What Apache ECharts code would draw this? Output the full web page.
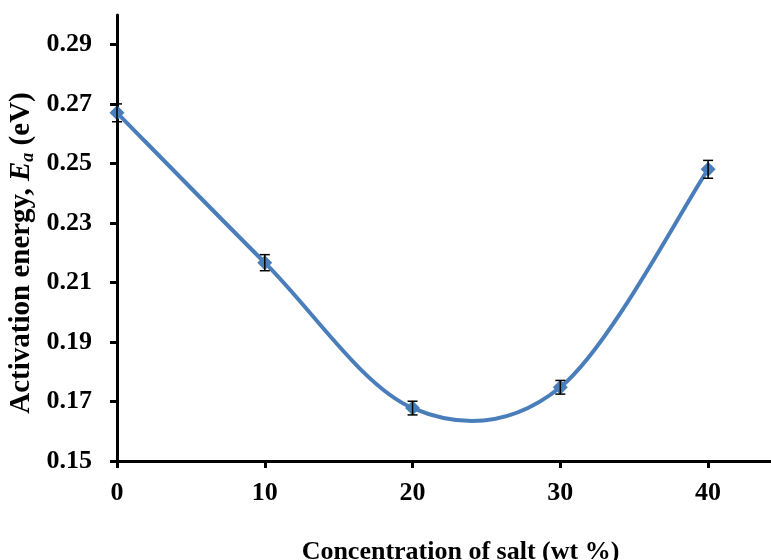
<!DOCTYPE html>
<html>
<head>
<meta charset="utf-8">
<title>Activation energy vs salt concentration</title>
<script src="https://cdn.jsdelivr.net/npm/echarts@6/dist/echarts.min.js"></script>
<style>
  html, body { margin: 0; padding: 0; background: #fff; }
  #main { width: 771px; height: 560px; }
</style>
</head>
<body>
<div id="main"></div>
<script>
// concentration of salt (wt %)
const salt = [0, 10, 20, 30, 40]
// activation energy Ea (eV)
const energy = [0.2671, 0.2167, 0.1678, 0.1748, 0.2481]
// error bar half-heights (eV)
const errors = [0.003, 0.0027, 0.0023, 0.0023, 0.003]

const font = 'Liberation Serif, Times New Roman, serif'
const blue = '#4A7EBB'

let chart = echarts.init(document.getElementById('main'))

// excel style smoothed line: catmull-rom segments turned into bezier curves,
// points mapped through the chart's own axes
function renderCurve (params, api) {
  let pts = salt.map((x, i) => api.coord([x, energy[i]]))
  let n = pts.length
  let children = []
  for (let i = 0; i < n - 1; i++) {
    let p0 = pts[Math.max(i - 1, 0)]
    let p1 = pts[i]
    let p2 = pts[i + 1]
    let p3 = pts[Math.min(i + 2, n - 1)]
    children.push({
      type: 'bezierCurve',
      shape: {
        x1: p1[0], y1: p1[1],
        x2: p2[0], y2: p2[1],
        cpx1: p1[0] + (p2[0] - p0[0]) / 6,
        cpy1: p1[1] + (p2[1] - p0[1]) / 6,
        cpx2: p2[0] - (p3[0] - p1[0]) / 6,
        cpy2: p2[1] - (p3[1] - p1[1]) / 6
      },
      style: { stroke: blue, lineWidth: 4, fill: null }
    })
  }
  return { type: 'group', children }
}

chart.setOption({
  animation: false,
  grid: { left: 117, top: 15, width: 665, height: 446, outerBoundsMode: 'none', containLabel: false },
  xAxis: {
    type: 'value',
    min: 0,
    max: 45,
    interval: 10,
    name: 'Concentration of salt (wt %)',
    nameLocation: 'middle',
    nameGap: 78,
    nameMoveOverlap: false,
    nameTextStyle: { fontFamily: font, fontWeight: 'bold', fontSize: 26, color: '#000', padding: [0, 0, 0, 22] },
    axisLine: { lineStyle: { color: '#000', width: 3 } },
    axisTick: { length: 7, lineStyle: { color: '#000', width: 3 } },
    axisLabel: {
      fontFamily: font, fontWeight: 'bold', fontSize: 26, color: '#000', margin: 19,
      showMaxLabel: false
    },
    splitLine: { show: false }
  },
  yAxis: {
    type: 'value',
    min: 0.15,
    max: 0.30,
    interval: 0.02,
    name: '{t|Activation energy, }{i|E}{s|a}{t| (eV)}',
    nameLocation: 'middle',
    nameGap: 80,
    nameMoveOverlap: false,
    nameTextStyle: {
      padding: [0, 30, 0, 0],
      rich: {
        t: { fontFamily: font, fontWeight: 'bold', fontSize: 29, color: '#000' },
        i: { fontFamily: font, fontWeight: 'bold', fontStyle: 'italic', fontSize: 29, color: '#000' },
        s: { fontFamily: font, fontWeight: 'bold', fontStyle: 'italic', fontSize: 18, color: '#000', padding: [12, 0, 0, 0] }
      }
    },
    axisLine: { lineStyle: { color: '#000', width: 3 } },
    axisTick: { length: 7, lineStyle: { color: '#000', width: 3 } },
    axisLabel: {
      fontFamily: font, fontWeight: 'bold', fontSize: 26, color: '#000', margin: 25,
      showMaxLabel: false,
      formatter: v => v.toFixed(2)
    },
    splitLine: { show: false }
  },
  series: [
    {
      type: 'custom',
      data: [0],
      renderItem: renderCurve,
      z: 1,
      silent: true
    },
    {
      type: 'scatter',
      data: salt.map((x, i) => [x, energy[i]]),
      symbol: 'diamond',
      symbolSize: 15,
      itemStyle: { color: blue, opacity: 1 },
      z: 2
    },
    {
      type: 'custom',
      data: salt.map((x, i) => [x, energy[i] - errors[i], energy[i] + errors[i]]),
      z: 3,
      renderItem: (params, api) => {
        let lo = api.coord([api.value(0), api.value(1)])
        let hi = api.coord([api.value(0), api.value(2)])
        let w = 5
        let style = { stroke: '#000', lineWidth: 1.5 }
        return {
          type: 'group',
          children: [
            { type: 'line', shape: { x1: lo[0], y1: lo[1], x2: hi[0], y2: hi[1] }, style },
            { type: 'line', shape: { x1: lo[0] - w, y1: lo[1], x2: lo[0] + w, y2: lo[1] }, style },
            { type: 'line', shape: { x1: hi[0] - w, y1: hi[1], x2: hi[0] + w, y2: hi[1] }, style }
          ]
        }
      }
    }
  ]
})
</script>
</body>
</html>
